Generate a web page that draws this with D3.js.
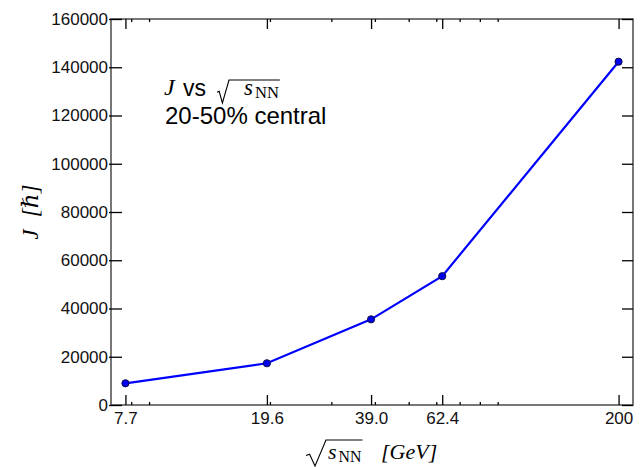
<!DOCTYPE html>
<html>
<head>
<meta charset="utf-8">
<script src="https://cdn.jsdelivr.net/npm/d3@7"></script>
<style>
  html, body { margin: 0; padding: 0; background: #fff; }
  svg { display: block; }
</style>
</head>
<body>
<svg id="chart" width="644" height="467"></svg>
<script>
// ---- data ----
const energies = [7.7, 19.6, 39.0, 62.4, 200];
const energyLabels = ["7.7", "19.6", "39.0", "62.4", "200"];
const Jvalues = [9000, 17300, 35500, 53400, 142300];
const minorTicks = [8, 9, 20, 30, 40, 50, 60, 70, 80, 90];
const yTicks = [0, 20000, 40000, 60000, 80000, 100000, 120000, 140000, 160000];
const legendLine2 = "20-50% central";

// ---- layout ----
const W = 644, H = 467;
const L = 111, R = 633, T = 19, B = 405;
const svg = d3.select("#chart");

const x = d3.scaleLog().domain([7, 220]).range([L, R]);
const y = d3.scaleLinear().domain([0, 160000]).range([B, T]);

const sans = "'Liberation Sans', Arial, Helvetica, sans-serif";
const serif = "'Liberation Serif', 'DejaVu Serif', 'Times New Roman', serif";

// frame
svg.append("rect")
  .attr("x", L).attr("y", T).attr("width", R - L).attr("height", B - T)
  .attr("fill", "none").attr("stroke", "#555").attr("stroke-width", 1.6);

function styleAxis(g) {
  g.select(".domain").remove();
  g.selectAll(".tick line").attr("stroke", "#000").attr("stroke-width", 1.3);
  g.selectAll(".tick text").attr("font-family", sans).attr("font-size", 17).attr("fill", "#111");
}

// bottom major
svg.append("g").attr("transform", `translate(0,${B})`)
  .call(d3.axisBottom(x).tickValues(energies).tickFormat((d, i) => energyLabels[i])
    .tickSizeInner(-10).tickSizeOuter(0).tickPadding(7))
  .call(styleAxis);
// bottom minor
svg.append("g").attr("transform", `translate(0,${B})`)
  .call(d3.axisBottom(x).tickValues(minorTicks).tickFormat("").tickSizeInner(-3).tickSizeOuter(0))
  .call(styleAxis);
// top major
svg.append("g").attr("transform", `translate(0,${T})`)
  .call(d3.axisTop(x).tickValues(energies).tickFormat("").tickSizeInner(-10).tickSizeOuter(0))
  .call(styleAxis);
// top minor
svg.append("g").attr("transform", `translate(0,${T})`)
  .call(d3.axisTop(x).tickValues(minorTicks).tickFormat("").tickSizeInner(-3).tickSizeOuter(0))
  .call(styleAxis);
// left
const gl = svg.append("g").attr("transform", `translate(${L},0)`)
  .call(d3.axisLeft(y).tickValues(yTicks).tickFormat(d3.format("d"))
    .tickSizeInner(-11).tickSizeOuter(0).tickPadding(3))
  .call(styleAxis);
gl.selectAll(".tick line").attr("x1", -2);
// right
svg.append("g").attr("transform", `translate(${R},0)`)
  .call(d3.axisRight(y).tickValues(yTicks).tickFormat("").tickSizeInner(-11).tickSizeOuter(0))
  .call(styleAxis);

// line + markers
const pts = energies.map((e, i) => ({ e, v: Jvalues[i] }));
svg.append("path").datum(pts)
  .attr("fill", "none").attr("stroke", "#0000ff").attr("stroke-width", 2.2)
  .attr("d", d3.line().x(d => x(d.e)).y(d => y(d.v)));
svg.append("g").selectAll("circle").data(pts).join("circle")
  .attr("cx", d => x(d.e)).attr("cy", d => y(d.v)).attr("r", 3.6)
  .attr("fill", "#0000ee").attr("stroke", "#111144").attr("stroke-width", 1);

// helper: draws sqrt(s_NN): radical starts at x0, corner at cx, s at sx, baseline yb
function sqrtSNN(parent, x0, cx, sx, yb, fs, topY, botY) {
  const g = parent.append("g");
  const s = g.append("text").attr("x", sx).attr("y", yb)
    .attr("font-family", serif).attr("font-style", "italic").attr("font-size", fs).text("s");
  const sw = s.node().getComputedTextLength();
  const nn = g.append("text").attr("x", sx + sw + 2).attr("y", yb + fs * 0.15)
    .attr("font-family", serif).attr("font-size", fs * 0.72).text("NN");
  const nw = nn.node().getComputedTextLength();
  const xe = sx + sw + 2 + nw + 1;
  const w = cx - x0;
  g.append("path")
    .attr("d", `M${x0},${yb - (yb - topY) * 0.18} L${x0 + w * 0.18},${yb - (yb - topY) * 0.25} L${x0 + w * 0.45},${botY} L${cx},${topY} L${xe},${topY}`)
    .attr("fill", "none").attr("stroke", "#000").attr("stroke-width", 1.1).attr("stroke-linejoin", "miter");
  return xe;
}

// legend text
const lg = svg.append("g");
lg.append("text").attr("x", 164).attr("y", 95)
  .attr("font-family", serif).attr("font-style", "italic").attr("font-size", 24).text("J");
lg.append("text").attr("x", 183).attr("y", 96)
  .attr("font-family", sans).attr("font-size", 23).text("vs");
sqrtSNN(lg, 217, 229, 244, 95, 23, 80, 103);
lg.append("text").attr("x", 165).attr("y", 124)
  .attr("font-family", sans).attr("font-size", 24).attr("fill", "#000").text(legendLine2);

// x axis label
const xl = svg.append("g");
sqrtSNN(xl, 306, 326, 328, 459, 22, 440, 466);
xl.append("text").attr("x", 381).attr("y", 459)
  .attr("font-family", serif).attr("font-style", "italic").attr("font-size", 22).text("[GeV]");

// y axis label
const yl = svg.append("text")
  .attr("transform", "translate(38,212) rotate(-90)")
  .attr("text-anchor", "middle")
  .attr("font-family", serif).attr("font-size", 23);
yl.append("tspan").attr("font-style", "italic").text("J");
yl.append("tspan").attr("dx", 12).attr("font-style", "italic").text("[ℏ]");
</script>
</body>
</html>
